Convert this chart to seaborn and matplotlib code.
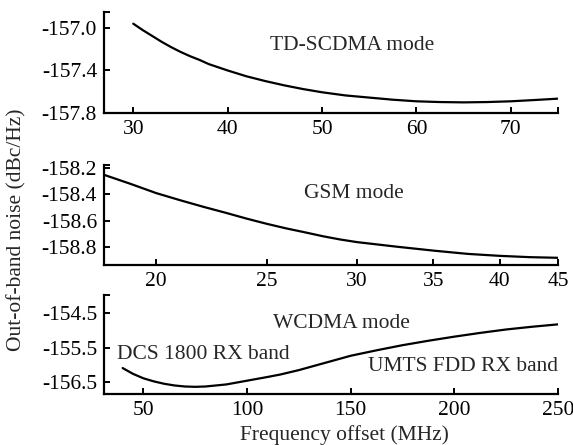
import matplotlib
matplotlib.use("Agg")
import matplotlib.pyplot as plt
import seaborn as sns
import pandas as pd
from matplotlib.ticker import NullLocator, FixedLocator

sns.set_theme(style="ticks")
plt.rcParams['font.family'] = ['Liberation Serif', 'DejaVu Serif']

# ---- data ----
td_freq = [30, 31, 32, 33, 34, 35, 36, 37, 38, 39, 40, 42, 44, 46, 48, 50,
           52.5, 55, 57.5, 60, 62.5, 65, 67.5, 70, 72.5, 75]
td_noise = [-156.96, -157.02, -157.075, -157.13, -157.18, -157.225, -157.265,
            -157.30, -157.34, -157.37, -157.40, -157.455, -157.50, -157.54,
            -157.575, -157.605, -157.635, -157.655, -157.675, -157.69,
            -157.697, -157.70, -157.697, -157.69, -157.678, -157.665]

gsm_freq = [18, 19, 20, 21, 22, 23, 24, 25, 26, 27, 28, 29, 30, 32.5, 35,
            37.5, 40, 42.5, 45]
gsm_noise = [-158.25, -158.32, -158.39, -158.445, -158.495, -158.54, -158.585,
             -158.625, -158.66, -158.69, -158.72, -158.745, -158.765, -158.80,
             -158.83, -158.855, -158.87, -158.88, -158.885]

wc_freq = [40, 45, 50, 55, 60, 65, 70, 75, 80, 90, 100, 110, 116, 125, 137.5,
           150, 162.5, 175, 187.5, 200, 212.5, 225, 237.5, 250]
wc_noise = [-156.10, -156.27, -156.40, -156.49, -156.56, -156.61, -156.64,
            -156.65, -156.64, -156.58, -156.47, -156.36, -156.29, -156.16,
            -155.95, -155.74, -155.58, -155.43, -155.30, -155.18, -155.07,
            -154.97, -154.89, -154.82]

td_xticks = [30, 40, 50, 60, 70]
td_yticks = [-157.8, -157.4, -157.0]
gsm_xticks = [20, 25, 30, 35, 40, 45]
gsm_yticks = [-158.8, -158.6, -158.4, -158.2]
wc_xticks = [50, 100, 150, 200, 250]
wc_yticks = [-156.5, -155.5, -154.5]

W, H = 573, 445
fig = plt.figure(figsize=(W / 100, H / 100), dpi=100)
fig.patch.set_facecolor('white')

def axes_px(left, right, top, bottom):
    return fig.add_axes([left / W, 1 - bottom / H, (right - left) / W, (bottom - top) / H])

ax1 = axes_px(104, 558, 12, 113)
ax2 = axes_px(104, 558, 165, 265)
ax3 = axes_px(104, 558, 295, 394)

FS = 15.5

def style(ax):
    ax.set_facecolor('white')
    for s in ['top', 'right']:
        ax.spines[s].set_visible(False)
    for s in ['left', 'bottom']:
        ax.spines[s].set_linewidth(1.6)
        ax.spines[s].set_color('black')
    ax.tick_params(which='both', direction='in', length=4, width=1.4,
                   colors='black', labelsize=FS, pad=5)
    ax.set_xlabel('')
    ax.set_ylabel('')
    ax.grid(False)

# Panel 1: TD-SCDMA
sns.lineplot(x=td_freq, y=td_noise, ax=ax1, color='black', linewidth=1.6)
ax1.set_xlim(26.9, 75)
ax1.set_ylim(-157.8, -156.85)
ax1.set_xticks(td_xticks)
ax1.set_xticklabels([str(v) for v in td_xticks])
ax1.set_yticks(td_yticks)
ax1.set_yticklabels([f"{v:.1f}" for v in td_yticks])
ax1.xaxis.set_minor_locator(FixedLocator([75]))
ax1.yaxis.set_minor_locator(FixedLocator([-156.85]))
style(ax1)
ax1.text(0.547, 0.673, 'TD-SCDMA mode', transform=ax1.transAxes,
         ha='center', va='center', fontsize=FS)

# Panel 2: GSM (log x)
sns.lineplot(x=gsm_freq, y=gsm_noise, ax=ax2, color='black', linewidth=1.6)
ax2.set_xscale('log')
ax2.set_xlim(18, 45)
ax2.set_ylim(-158.94, -158.175)
ax2.xaxis.set_major_locator(FixedLocator(gsm_xticks))
ax2.xaxis.set_minor_locator(NullLocator())
ax2.set_xticklabels([str(v) for v in gsm_xticks])
ax2.set_yticks(gsm_yticks)
ax2.set_yticklabels([f"{v:.1f}" for v in gsm_yticks])
ax2.yaxis.set_minor_locator(FixedLocator([-158.175]))
style(ax2)
ax2.text(0.551, 0.72, 'GSM mode', transform=ax2.transAxes,
         ha='center', va='center', fontsize=FS)

# Panel 3: WCDMA
sns.lineplot(x=wc_freq, y=wc_noise, ax=ax3, color='black', linewidth=1.6)
ax3.set_xlim(31, 250)
ax3.set_ylim(-156.86, -153.96)
ax3.set_xticks(wc_xticks)
ax3.set_xticklabels([str(v) for v in wc_xticks])
ax3.set_yticks(wc_yticks)
ax3.set_yticklabels([f"{v:.1f}" for v in wc_yticks])
ax3.yaxis.set_minor_locator(FixedLocator([-153.96]))
style(ax3)
ax3.text(0.524, 0.717, 'WCDMA mode', transform=ax3.transAxes,
         ha='center', va='center', fontsize=FS)
ax3.text(0.218, 0.404, 'DCS 1800 RX band', transform=ax3.transAxes,
         ha='center', va='center', fontsize=FS)
ax3.text(0.79, 0.273, 'UMTS FDD RX band', transform=ax3.transAxes,
         ha='center', va='center', fontsize=FS)

fig.text(17 / W, 1 - 230 / H, 'Out-of-band noise (dBc/Hz)', rotation=90,
         ha='center', va='center', fontsize=FS)
fig.text(344 / W, 1 - 435 / H, 'Frequency offset (MHz)',
         ha='center', va='center', fontsize=FS)

fig.savefig('out.png', dpi=100, facecolor='white')
